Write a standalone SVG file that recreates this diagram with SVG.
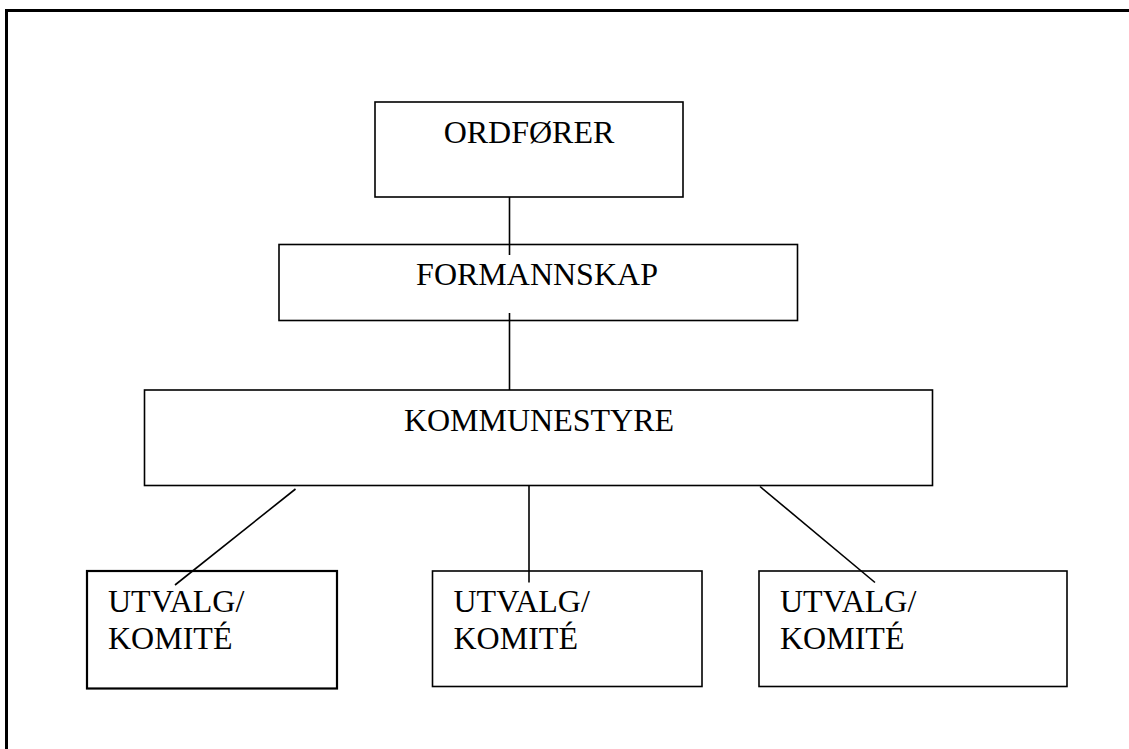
<svg xmlns="http://www.w3.org/2000/svg" width="1129" height="749" viewBox="0 0 1129 749">
<style>
.box{fill:#fff;stroke:#000;stroke-width:1.6}
.thick{stroke-width:2.2}
.lbl{font-family:"Liberation Serif","Times New Roman",serif;font-size:32px;fill:#000}
.mid{text-anchor:middle}
.conn line{stroke:#000;stroke-width:1.6}
</style>
<rect width="1129" height="749" fill="#fff"/>
<rect x="6.5" y="10.5" width="1130" height="750" fill="none" stroke="#000" stroke-width="3"/>
<g id="ordforer">
<rect class="box" x="375" y="102" width="308" height="95"/>
<text class="lbl mid" x="529" y="143">ORDFØRER</text>
</g>
<g id="formannskap">
<rect class="box" x="279" y="244.5" width="518.5" height="76"/>
<text class="lbl mid" x="537" y="285">FORMANNSKAP</text>
</g>
<g id="kommunestyre">
<rect class="box" x="144.5" y="390" width="788" height="95.5"/>
<text class="lbl mid" x="539" y="431">KOMMUNESTYRE</text>
</g>
<g id="utvalg1">
<rect class="box thick" x="87" y="571" width="250" height="117.5"/>
<text class="lbl" x="108" y="612">UTVALG/</text>
<text class="lbl" x="108" y="648.5">KOMITÉ</text>
</g>
<g id="utvalg2">
<rect class="box" x="432.5" y="571" width="269.5" height="115.5"/>
<text class="lbl" x="453.5" y="611.5">UTVALG/</text>
<text class="lbl" x="453.5" y="648.5">KOMITÉ</text>
</g>
<g id="utvalg3">
<rect class="box" x="759" y="571" width="308" height="115.5"/>
<text class="lbl" x="780" y="611.5">UTVALG/</text>
<text class="lbl" x="780" y="648.5">KOMITÉ</text>
</g>
<g id="connectors" class="conn">
<line x1="509.5" y1="197" x2="509.5" y2="255"/>
<line x1="509.5" y1="313" x2="509.5" y2="390"/>
<line x1="295.5" y1="489" x2="175" y2="585"/>
<line x1="529" y1="485.5" x2="529" y2="582.5"/>
<line x1="760" y1="486.5" x2="875" y2="582.5"/>
</g>
</svg>
